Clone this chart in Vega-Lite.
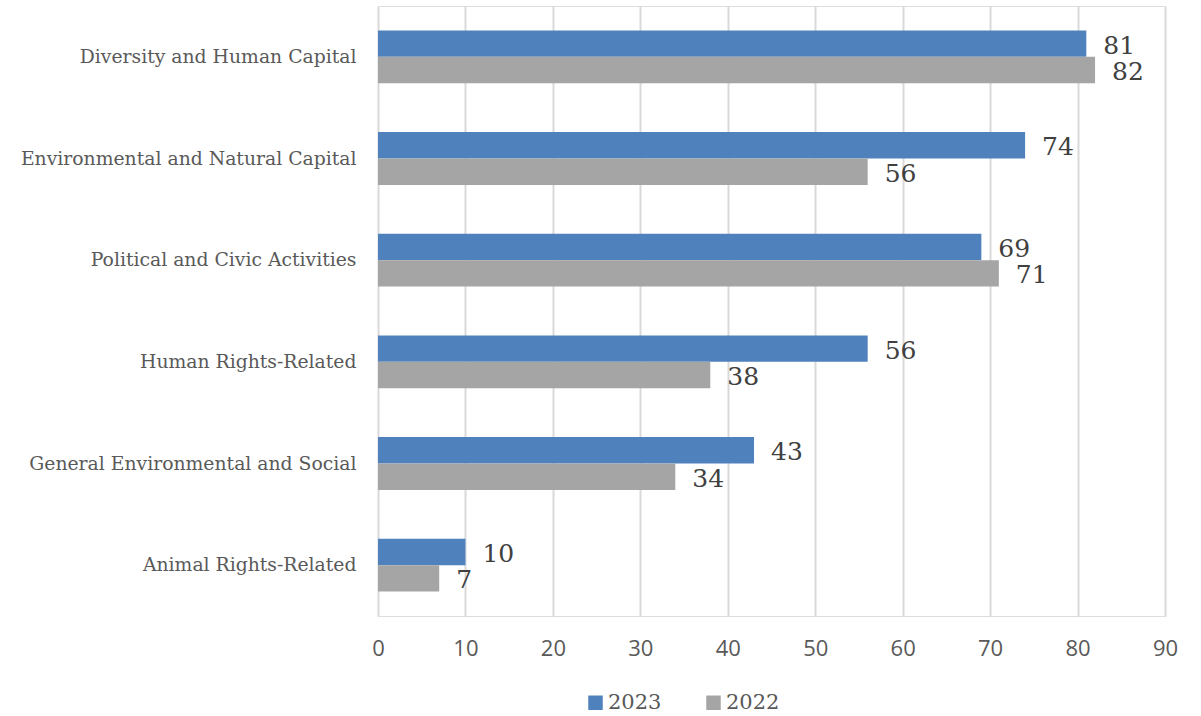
{
  "$schema": "https://vega.github.io/schema/vega-lite/v6.json",
  "width": 787,
  "height": 610,
  "autosize": {"type": "none"},
  "padding": {"left": 378, "top": 6, "right": 36, "bottom": 100},
  "background": "white",
  "data": {
    "values": [
      {"category": "Diversity and Human Capital", "year": "2023", "value": 81},
      {"category": "Diversity and Human Capital", "year": "2022", "value": 82},
      {"category": "Environmental and Natural Capital", "year": "2023", "value": 74},
      {"category": "Environmental and Natural Capital", "year": "2022", "value": 56},
      {"category": "Political and Civic Activities", "year": "2023", "value": 69},
      {"category": "Political and Civic Activities", "year": "2022", "value": 71},
      {"category": "Human Rights-Related", "year": "2023", "value": 56},
      {"category": "Human Rights-Related", "year": "2022", "value": 38},
      {"category": "General Environmental and Social", "year": "2023", "value": 43},
      {"category": "General Environmental and Social", "year": "2022", "value": 34},
      {"category": "Animal Rights-Related", "year": "2023", "value": 10},
      {"category": "Animal Rights-Related", "year": "2022", "value": 7}
    ]
  },
  "encoding": {
    "y": {
      "field": "category",
      "type": "nominal",
      "sort": null,
      "title": null,
      "scale": {"paddingInner": 0.48, "paddingOuter": 0.24},
      "axis": {
        "domain": false,
        "ticks": false,
        "labelFont": "DejaVu Serif",
        "labelFontSize": 18.8,
        "labelColor": "#595959",
        "labelPadding": 22,
        "labelLimit": 400
      }
    },
    "yOffset": {"field": "year", "type": "nominal", "sort": ["2023", "2022"], "scale": {"paddingInner": 0, "paddingOuter": 0}},
    "x": {
      "field": "value",
      "type": "quantitative",
      "title": null,
      "scale": {"domain": [0, 90]},
      "axis": {
        "values": [0, 10, 20, 30, 40, 50, 60, 70, 80, 90],
        "domain": false,
        "ticks": false,
        "grid": true,
        "gridColor": "#d9d9d9",
        "gridWidth": 2,
        "labelFlush": false,
        "labelFont": "Open Sans",
        "labelFontSize": 22,
        "labelColor": "#595959",
        "labelPadding": 22
      }
    }
  },
  "layer": [
    {
      "mark": {"type": "bar"},
      "encoding": {
        "color": {
          "field": "year",
          "type": "nominal",
          "sort": ["2023", "2022"],
          "scale": {"domain": ["2023", "2022"], "range": ["#4f81bd", "#a5a5a5"]},
          "legend": {
            "title": null,
            "orient": "none",
            "legendX": 207,
            "legendY": 686,
            "direction": "horizontal",
            "symbolType": "square",
            "symbolSize": 210,
            "symbolStrokeWidth": 0,
            "labelFont": "DejaVu Serif",
            "labelFontSize": 21,
            "labelColor": "#595959",
            "labelOffset": 2,
            "columnPadding": 41
          }
        }
      }
    },
    {
      "mark": {"type": "text", "align": "left", "dx": 17, "dy": 2, "font": "DejaVu Serif", "fontSize": 25, "color": "#404040"},
      "encoding": {
        "text": {"field": "value", "type": "quantitative"}
      }
    }
  ]
}
